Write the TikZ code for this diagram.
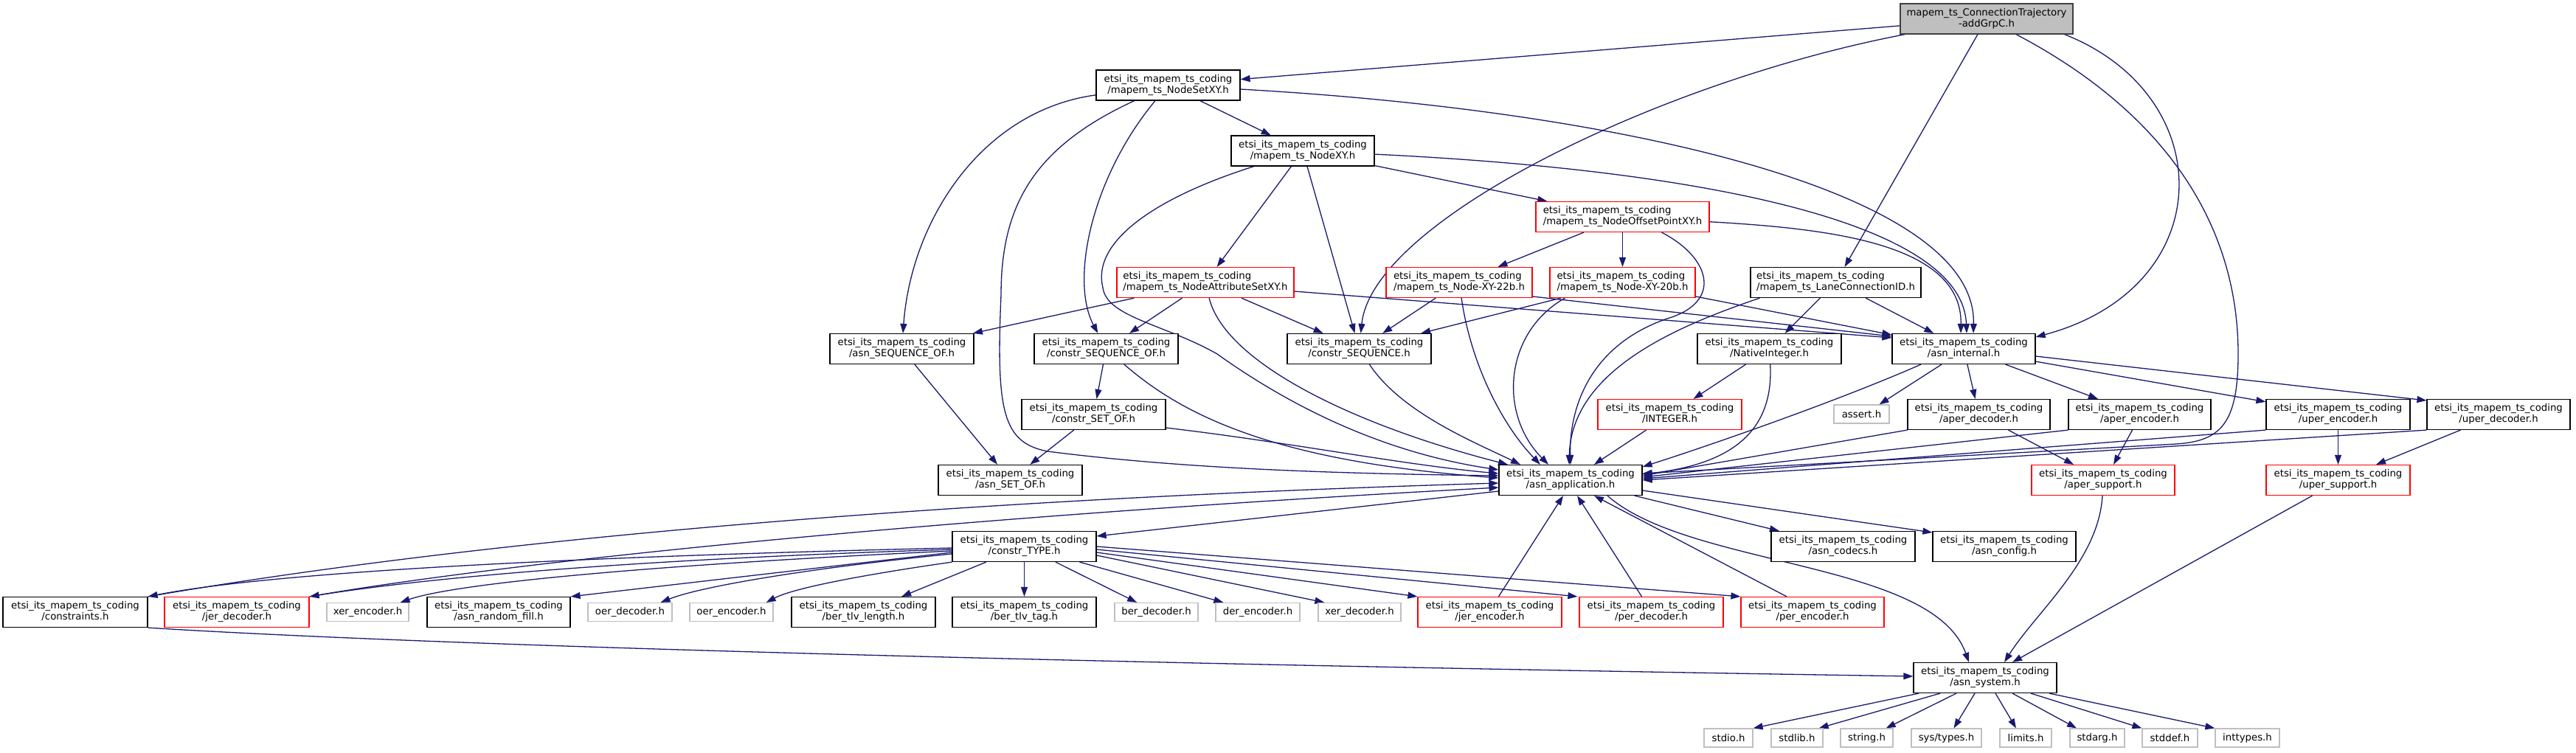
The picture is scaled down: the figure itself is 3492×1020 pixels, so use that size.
\documentclass[tikz,border=0pt]{standalone}
\usepackage{fontspec}
\usetikzlibrary{arrows.meta}
\newfontfamily\dvs{DejaVu Sans}
\definecolor{edgeblue}{RGB}{25,25,112}
\definecolor{grayfill}{RGB}{191,191,191}
\definecolor{grayline}{RGB}{191,191,191}
\newcommand{\twol}[2]{\begin{tabular}{@{}l@{}}#1\\\multicolumn{1}{@{}c@{}}{#2}\end{tabular}}
\newcommand{\et}{etsi\_its\_mapem\_ts\_coding}
\pgfdeclarelayer{bg}
\pgfsetlayers{bg,main}
\begin{document}
\begin{tikzpicture}[x=1pt,y=-1pt,
  base/.style={inner sep=0pt, line width=1.2pt, fill=white, font=\dvs\fontsize{13.3}{15}\selectfont, minimum height=41pt},
  nd/.style={base, draw=black},
  rnd/.style={base, draw=red},
  gnd/.style={base, draw=grayline, minimum height=25pt},
  tnd/.style={base, draw=black!75, fill=grayfill},
  edge/.style={draw=edgeblue, line width=1.3pt, -{Triangle[length=13pt,width=9pt]}}
]
\useasboundingbox (0,0) rectangle (3492,1020);
% row 1
\node[tnd, minimum width=234pt] (top) at (2693,25.5) {\twol{mapem\_ts\_ConnectionTrajectory}{-addGrpC.h}};
% row 2
\node[nd, minimum width=195pt] (nsxy) at (1583.5,115.5) {\twol{\et}{/mapem\_ts\_NodeSetXY.h}};
% row 3
\node[nd, minimum width=194pt] (nxy) at (1766,204.5) {\twol{\et}{/mapem\_ts\_NodeXY.h}};
% row 4
\node[rnd, minimum width=235pt] (nop) at (2199.5,294) {\twol{\et}{/mapem\_ts\_NodeOffsetPointXY.h}};
% row 5
\node[rnd, minimum width=240pt] (nas) at (1634,383) {\twol{\et}{/mapem\_ts\_NodeAttributeSetXY.h}};
\node[rnd, minimum width=198pt] (n22) at (1978,383) {\twol{\et}{/mapem\_ts\_Node-XY-22b.h}};
\node[rnd, minimum width=197pt] (n20) at (2199.5,383) {\twol{\et}{/mapem\_ts\_Node-XY-20b.h}};
\node[nd, minimum width=231pt] (lci) at (2488.5,383) {\twol{\et}{/mapem\_ts\_LaneConnectionID.h}};
% row 6
\node[nd, minimum width=195pt] (aso) at (1222.5,473) {\twol{\et}{/asn\_SEQUENCE\_OF.h}};
\node[nd, minimum width=195pt] (cso) at (1499.5,473) {\twol{\et}{/constr\_SEQUENCE\_OF.h}};
\node[nd, minimum width=195pt] (cs) at (1842.5,473) {\twol{\et}{/constr\_SEQUENCE.h}};
\node[nd, minimum width=195pt] (ni) at (2398.5,473) {\twol{\et}{/NativeInteger.h}};
\node[nd, minimum width=194pt] (ai) at (2662,473) {\twol{\et}{/asn\_internal.h}};
% row 7
\node[nd, minimum width=195pt] (cset) at (1482.5,562) {\twol{\et}{/constr\_SET\_OF.h}};
\node[rnd, minimum width=195pt] (integer) at (2263.5,562) {\twol{\et}{/INTEGER.h}};
\node[gnd, minimum width=75pt] (assert) at (2523.5,561.5) {assert.h};
\node[nd, minimum width=193pt] (apd) at (2682.5,562) {\twol{\et}{/aper\_decoder.h}};
\node[nd, minimum width=193pt] (ape) at (2900.5,562) {\twol{\et}{/aper\_encoder.h}};
\node[nd, minimum width=195pt] (upe) at (3169.5,562) {\twol{\et}{/uper\_encoder.h}};
\node[nd, minimum width=194pt] (upd) at (3387,562) {\twol{\et}{/uper\_decoder.h}};
% row 8
\node[nd, minimum width=195pt] (aset) at (1369.5,651) {\twol{\et}{/asn\_SET\_OF.h}};
\node[nd, minimum width=194pt] (aa) at (2129,651) {\twol{\et}{/asn\_application.h}};
\node[rnd, minimum width=194pt] (aps) at (2851,651) {\twol{\et}{/aper\_support.h}};
\node[rnd, minimum width=195pt] (ups) at (3169.5,651) {\twol{\et}{/uper\_support.h}};
% row 9
\node[nd, minimum width=195pt] (ct) at (1388.5,741) {\twol{\et}{/constr\_TYPE.h}};
\node[nd, minimum width=195pt] (codecs) at (2498.5,741) {\twol{\et}{/asn\_codecs.h}};
\node[nd, minimum width=194pt] (config) at (2717,741) {\twol{\et}{/asn\_config.h}};
% row 10
\node[nd, minimum width=196pt] (constraints) at (102,830) {\twol{\et}{/constraints.h}};
\node[rnd, minimum width=196pt] (jerd) at (321,830) {\twol{\et}{/jer\_decoder.h}};
\node[gnd, minimum width=111pt] (xere) at (498.5,830) {xer\_encoder.h};
\node[nd, minimum width=194pt] (arf) at (676,830) {\twol{\et}{/asn\_random\_fill.h}};
\node[gnd, minimum width=114pt] (oerd) at (854,830) {oer\_decoder.h};
\node[gnd, minimum width=113pt] (oere) at (991.5,830) {oer\_encoder.h};
\node[nd, minimum width=195pt] (btl) at (1170.5,830) {\twol{\et}{/ber\_tlv\_length.h}};
\node[nd, minimum width=195pt] (btt) at (1388.5,830) {\twol{\et}{/ber\_tlv\_tag.h}};
\node[gnd, minimum width=113pt] (berd) at (1567.5,830) {ber\_decoder.h};
\node[gnd, minimum width=114pt] (dere) at (1705,830) {der\_encoder.h};
\node[gnd, minimum width=112pt] (xerd) at (1843,830) {xer\_decoder.h};
\node[rnd, minimum width=195pt] (jere) at (2019.5,830) {\twol{\et}{/jer\_encoder.h}};
\node[rnd, minimum width=195pt] (perd) at (2238.5,830) {\twol{\et}{/per\_decoder.h}};
\node[rnd, minimum width=194pt] (pere) at (2457,830) {\twol{\et}{/per\_encoder.h}};
% row 11
\node[nd, minimum width=194pt] (sys) at (2691,919) {\twol{\et}{/asn\_system.h}};
% row 12
\node[gnd, minimum width=66pt] (stdio) at (2343,1000.5) {stdio.h};
\node[gnd, minimum width=70pt] (stdlib) at (2436,1000.5) {stdlib.h};
\node[gnd, minimum width=71pt] (string) at (2530.5,1000.5) {string.h};
\node[gnd, minimum width=95pt] (systypes) at (2638.5,1000.5) {sys/types.h};
\node[gnd, minimum width=70pt] (limits) at (2746,1000.5) {limits.h};
\node[gnd, minimum width=74pt] (stdarg) at (2843,1000.5) {stdarg.h};
\node[gnd, minimum width=75pt] (stddef) at (2941.5,1000.5) {stddef.h};
\node[gnd, minimum width=87pt] (inttypes) at (3046.5,1000.5) {inttypes.h};

\begin{pgfonlayer}{bg}
% top
\draw[edge] (top) -- (nsxy);
\draw[edge] (top) .. controls (2250,110) and (1860,300) .. (cs);
\draw[edge] (top) -- (lci);
\draw[edge] ([xshift=-12pt]top.south east) .. controls (3010,130) and (3010,390) .. ([yshift=16pt]ai.east);
\draw[edge] ([xshift=40pt]top.south) .. controls (2930,150) and (3034,300) .. (3034,480) .. controls (3034,575) and (3010,598) .. (2950,602) -- ([yshift=9pt]aa.east);
% nsxy
\draw[edge] (nsxy) -- (nxy);
\draw[edge] (nsxy) .. controls (1330,150) and (1235,300) .. (aso);
\draw[edge] (nsxy) .. controls (1480,240) and (1450,380) .. (cso);
\draw[edge] (nsxy) .. controls (1400,200) and (1357,280) .. (1357,400) .. controls (1350,560) and (1360,600) .. (1420,612) .. controls (1600,635) and (1800,642) .. ([yshift=6pt]aa.west);
\draw[edge] (nsxy) .. controls (2200,150) and (2680,260) .. ([xshift=13pt]ai.north);
% nxy
\draw[edge] (nxy) -- (nop);
\draw[edge] (nxy) -- (nas);
\draw[edge] (nxy) -- (cs);
\draw[edge] (nxy) .. controls (1560,270) and (1480,330) .. (1495,390) .. controls (1500,430) and (1580,440) .. (1650,480) .. controls (1720,530) and (1850,610) .. ([yshift=14pt]aa.west);
\draw[edge] (nxy) .. controls (2300,230) and (2660,300) .. ([xshift=4pt]ai.north);
% nop
\draw[edge] (nop) -- (n22);
\draw[edge] (nop) -- (n20);
\draw[edge] ([xshift=53pt]nop.south) .. controls (2320,350) and (2335,410) .. (2260,432) .. controls (2150,470) and (2127,560) .. (aa.north);
\draw[edge] (nop) .. controls (2480,310) and (2660,330) .. ([xshift=-4pt]ai.north);
% nas
\draw[edge] (nas) -- (aso);
\draw[edge] (nas) -- (cso);
\draw[edge] (nas) -- (cs);
\draw[edge] (nas) .. controls (1660,490) and (1830,575) .. ([xshift=-85pt]aa.north);
\draw[edge] ([yshift=-12pt]nas.east) -- ([yshift=15pt]ai.west);
% n22
\draw[edge] (n22) -- (cs);
\draw[edge] (n22) .. controls (1995,500) and (2040,580) .. ([xshift=-41pt]aa.north);
\draw[edge] ([yshift=-19pt]n22.east) -- ([yshift=17pt]ai.west);
% n20
\draw[edge] (n20) -- (cs);
\draw[edge] ([xshift=-78pt]n20.south) .. controls (2040,450) and (2030,560) .. ([xshift=-30pt]aa.north);
\draw[edge] ([yshift=-19pt]n20.east) -- ([yshift=19pt]ai.west);
% lci
\draw[edge] (lci) -- (ni);
\draw[edge] (lci) -- (ai);
\draw[edge] ([xshift=-103pt]lci.south) .. controls (2280,440) and (2130,500) .. ([xshift=-2pt]aa.north);
% row 6 sources
\draw[edge] (aso) -- (aset);
\draw[edge] (cso) -- (cset);
\draw[edge] (cso) .. controls (1600,560) and (1720,625) .. ([yshift=3pt]aa.west);
\draw[edge] (cs) .. controls (1900,560) and (2000,600) .. ([xshift=-68pt]aa.north);
\draw[edge] (ni) -- (integer);
\draw[edge] (ni) .. controls (2405,590) and (2340,630) .. ([yshift=8pt]aa.east);
% ai
\draw[edge] ([xshift=-58pt]ai.south) .. controls (2500,540) and (2330,600) .. ([yshift=18pt]aa.east);
\draw[edge] ([xshift=-30pt]ai.south) -- ([xshift=24pt]assert.north);
\draw[edge] (ai) -- (apd);
\draw[edge] (ai) -- (ape);
\draw[edge] (ai) -- (upe);
\draw[edge] ([yshift=-10pt]ai.east) -- ([yshift=19pt]upd.west);
% row 7 sources
\draw[edge] (cset) -- (aset);
\draw[edge] ([yshift=-18pt]cset.east) .. controls (1750,600) and (1900,630) .. ([yshift=9pt]aa.west);
\draw[edge] (integer) -- (aa);
\draw[edge] (apd.south west) -- ([yshift=6pt]aa.east);
\draw[edge] (apd) -- (aps);
\draw[edge] (ape.south west) -- ([yshift=4pt]aa.east);
\draw[edge] ([xshift=-10pt]ape.south) -- ([xshift=14pt]aps.north);
\draw[edge] (upe.south west) -- ([yshift=2pt]aa.east);
\draw[edge] (upe) -- (ups);
\draw[edge] (upd.south west) -- (aa.east);
\draw[edge] (upd) -- (ups);
% supports
\draw[edge] ([xshift=-1pt]aps.south) .. controls (2845,760) and (2760,830) .. ([xshift=26pt]sys.north);
\draw[edge] ([xshift=-35pt]ups.south) -- ([xshift=37pt]sys.north);
% asn_application
\draw[edge] ([yshift=-15pt]aa.west) -- ([yshift=14pt]ct.east);
\draw[edge] (aa) -- (codecs);
\draw[edge] ([yshift=-14pt]aa.east) -- ([yshift=19pt]config.west);
\draw[edge] ([xshift=50pt]aa.south) .. controls (2290,770) and (2620,760) .. ([xshift=-22pt]sys.north);
% constr_TYPE
\draw[edge] ([yshift=-2pt]ct.west) .. controls (900,752) and (400,770) .. (constraints.north east);
\draw[edge] ([yshift=-4pt]ct.west) .. controls (900,757) and (600,780) .. (jerd.north east);
\draw[edge] ([yshift=-6pt]ct.west) .. controls (900,765) and (620,790) .. ([xshift=-12pt]xere.north east);
\draw[edge] ([yshift=-8pt]ct.west) -- (arf.north east);
\draw[edge] ([yshift=-10pt]ct.west) .. controls (1100,770) and (950,795) .. ([xshift=-16pt]oerd.north east);
\draw[edge] (ct.south west) .. controls (1200,775) and (1080,795) .. ([xshift=-10pt]oere.north east);
\draw[edge] (ct) -- (btl);
\draw[edge] (ct) -- (btt);
\draw[edge] (ct) -- (berd);
\draw[edge] (ct) -- (dere);
\draw[edge] ([yshift=-12pt]ct.east) -- ([xshift=9pt]xerd.north west);
\draw[edge] ([yshift=-8pt]ct.east) -- (jere.north west);
\draw[edge] ([yshift=-4pt]ct.east) -- ([xshift=-2pt]perd.north west);
\draw[edge] (ct.east) -- (pere.north west);
% back edges to asn_application
\draw[edge] (constraints.north east) .. controls (600,740) and (1200,680) .. ([yshift=-4pt]aa.west);
\draw[edge] (jerd.north east) .. controls (700,760) and (1300,700) .. ([yshift=-10pt]aa.west);
\draw[edge] ([xshift=12pt]jere.north) -- ([xshift=-10pt]aa.south);
\draw[edge] ([xshift=-13pt]perd.north) -- ([xshift=9pt]aa.south);
\draw[edge] ([xshift=-35pt]pere.north) -- ([xshift=32pt]aa.south);
% constraints -> asn_system
\draw[edge] (constraints.south east) .. controls (500,870) and (1200,895) .. ([yshift=2pt]sys.west);
% asn_system
\draw[edge] ([xshift=-90pt]sys.south) -- (stdio.north east);
\draw[edge] ([xshift=-61pt]sys.south) -- ([xshift=-6pt]stdlib.north east);
\draw[edge] ([xshift=-39pt]sys.south) -- ([xshift=-10pt]string.north east);
\draw[edge] ([xshift=-14pt]sys.south) -- ([xshift=10pt]systypes.north);
\draw[edge] ([xshift=14pt]sys.south) -- ([xshift=-13pt]limits.north);
\draw[edge] ([xshift=37pt]sys.south) -- ([xshift=-28pt]stdarg.north);
\draw[edge] ([xshift=62pt]sys.south) -- (stddef.north west);
\draw[edge] ([xshift=87pt]sys.south) -- (inttypes.north west);
\end{pgfonlayer}
\end{tikzpicture}
\end{document}
